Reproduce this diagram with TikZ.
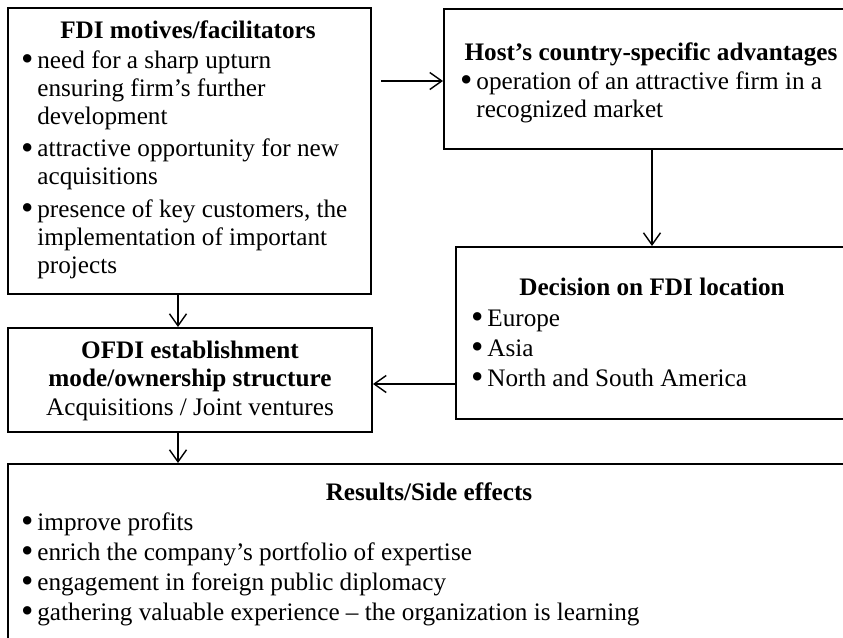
\documentclass[tikz,border=0pt]{standalone}
\usepackage{fontspec}
\setmainfont{Liberation Serif}
\usetikzlibrary{arrows.meta}
\newcommand\mybul{\llap{\smash{\raisebox{-1.3pt}{\scalebox{1.4}{\textbullet}}}\hspace{2pt}}}
\begin{document}
\begin{tikzpicture}[x=0.5pt,y=-0.5pt,
  box/.style={draw, line width=1pt, inner sep=0pt, anchor=north west},
  arr/.style={line width=0.7pt, -{Straight Barb[length=6pt,width=8.5pt,line width=0.7pt]}},
  body/.style={font=\fontsize{12.6pt}{14.1pt}\selectfont, inner sep=0pt, align=left, anchor=base west},
  ttl/.style={font=\fontsize{12.6pt}{14.25pt}\selectfont\bfseries, inner sep=0pt, align=center, anchor=base}]
\useasboundingbox (0,0) rectangle (843,638);
\clip (0,0) rectangle (843,638);
% boxes
\node[box, minimum width=181.5pt, minimum height=143pt] (b1) at (7,7) {};
\node[box, minimum width=208pt, minimum height=70pt] (b2) at (443,8) {};
\node[box, minimum width=197pt, minimum height=86pt] (b3) at (455,246) {};
\node[box, minimum width=182pt, minimum height=52pt] (b4) at (7,327) {};
\node[box, minimum width=421pt, minimum height=100pt] (b5) at (7,463) {};
% texts (multi-line nodes are placed by the baseline of their last line)
\node[ttl] (t1) at (188,38) {FDI motives/facilitators};
\node[body] (l1) at (37,273.4) {\mybul need for a sharp upturn\\ensuring firm’s further\\development\\[2pt]\mybul attractive opportunity for new\\acquisitions\\[2pt]\mybul presence of key customers, the\\implementation of important\\projects};
\node[ttl] (t2) at (651,60) {Host’s country-specific advantages};
\node[body] (l2) at (476,117.5) {\mybul operation of an attractive firm in a\\recognized market};
\node[ttl] (t3) at (652,295) {Decision on FDI location};
\node[body, font=\fontsize{12.6pt}{15pt}\selectfont] (l3) at (487,386) {\mybul Europe\\\mybul Asia\\\mybul North and South America};
\node[ttl] (t4) at (190,415) {OFDI establishment\\mode/ownership structure\\\mdseries Acquisitions / Joint ventures};
\node[ttl] (t5) at (429,500) {Results/Side effects};
\node[body, font=\fontsize{12.6pt}{15pt}\selectfont] (l5) at (37,620) {\mybul improve profits\\\mybul enrich the company’s portfolio of expertise\\\mybul engagement in foreign public diplomacy\\\mybul gathering valuable experience – the organization is learning};
% connectors
\coordinate (a1) at (381,81);
\draw[arr] (a1) -- (a1 -| b2.west);
\draw[arr] (b2.south) -- (b2.south |- b3.north);
\draw[arr] ([xshift=-5.75pt]b1.south) -- ([xshift=-5.75pt]b1.south |- b4.north);
\draw[arr] ([yshift=-25.5pt]b3.west) -- ([yshift=-25.5pt]b3.west -| b4.east);
\draw[arr] ([xshift=-6pt]b4.south) -- ([xshift=-6pt]b4.south |- b5.north);
\end{tikzpicture}
\end{document}
